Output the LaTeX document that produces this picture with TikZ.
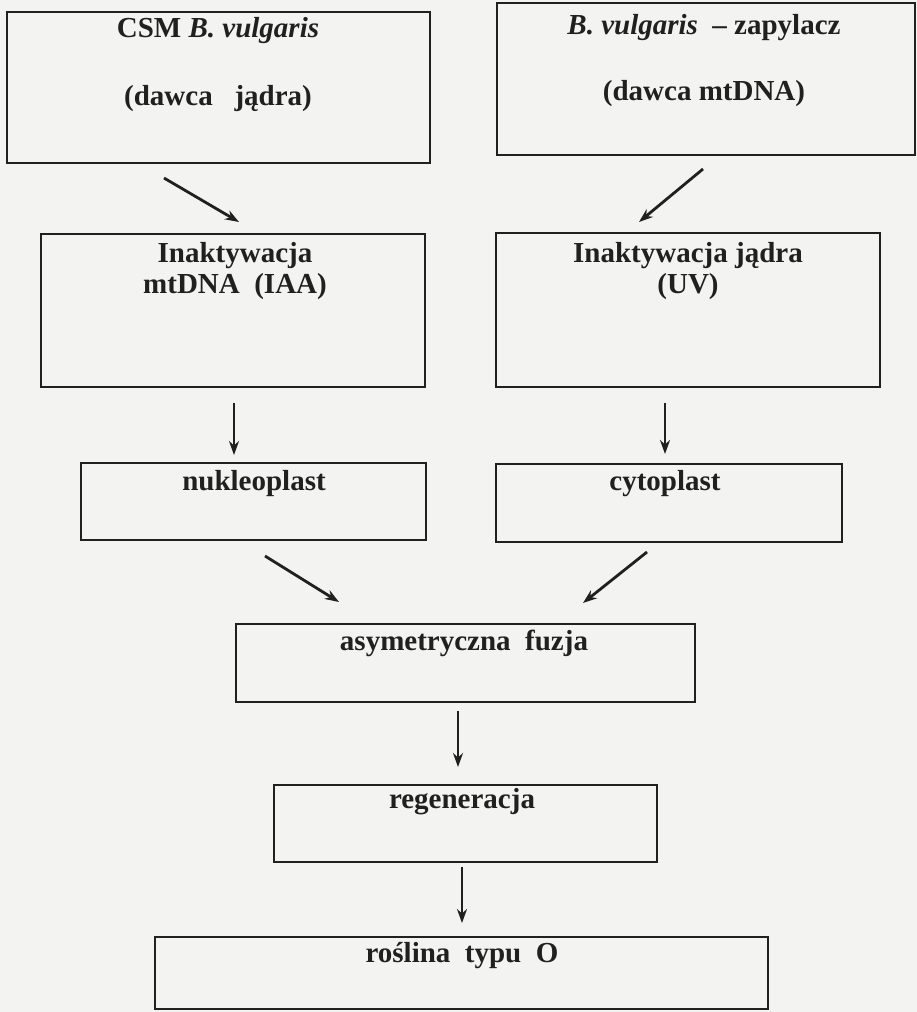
\documentclass[tikz,border=0pt]{standalone}
\usepackage{fontspec}
\setmainfont{Liberation Serif}
\usetikzlibrary{arrows.meta}
\definecolor{paper}{RGB}{243,243,241}
\definecolor{ink}{RGB}{32,32,32}
\tikzset{
  x=1pt, y=-1pt,
  box/.style={draw=ink, line width=2pt, inner sep=0pt},
  txt/.style={anchor=base, inner sep=0pt, text=ink, font=\fontsize{29}{34}\selectfont\bfseries},
  flow/.style={draw=ink, line width=2.8pt, -{Stealth[length=14pt,width=10pt]}}
}
\begin{document}
\begin{tikzpicture}
  \useasboundingbox (0,0) rectangle (917,1012);
  \fill[paper] (0,0) rectangle (917,1012);

  % boxes
  \node[box, minimum width=423pt, minimum height=151pt] (csm)   at (218.5,87.5)  {};
  \node[box, minimum width=418pt, minimum height=152pt] (zap)   at (706,79)      {};
  \node[box, minimum width=384pt, minimum height=153pt] (inmt)  at (233,310.5)   {};
  \node[box, minimum width=384pt, minimum height=154pt] (injd)  at (688,310)     {};
  \node[box, minimum width=345pt, minimum height=77pt]  (nukl)  at (253.5,501.5) {};
  \node[box, minimum width=346pt, minimum height=78pt]  (cyto)  at (669,503)     {};
  \node[box, minimum width=459pt, minimum height=78pt]  (fuzja) at (465.5,663)   {};
  \node[box, minimum width=383pt, minimum height=77pt]  (regen) at (465.5,823.5) {};
  \node[box, minimum width=613pt, minimum height=72pt]  (rosl)  at (461.5,973)   {};

  % labels
  \node[txt] (csmA)  at (218,37)  {CSM \textit{B. vulgaris}};
  \node[txt] (csmB)  at (218,105) {(dawca\ \ \ jądra)};
  \node[txt] (zapA)  at (704,34)  {\textit{B. vulgaris}\ \ – zapylacz};
  \node[txt] (zapB)  at (704,100) {(dawca mtDNA)};
  \node[txt] (inmtA) at (235,262) {Inaktywacja};
  \node[txt] (inmtB) at (235,293) {mtDNA\ \ (IAA)};
  \node[txt] (injdA) at (688,262) {Inaktywacja jądra};
  \node[txt] (injdB) at (688,293) {(UV)};
  \node[txt] (nuklA) at (254,490) {nukleoplast};
  \node[txt] (cytoA) at (665,490) {cytoplast};
  \node[txt] (fuzA)  at (464,650) {asymetryczna\ \ fuzja};
  \node[txt] (regA)  at (462,808) {regeneracja};
  \node[txt] (roslA) at (462,962) {roślina\ \ typu\ \ O};

  % connector end points
  \coordinate (a1s) at (164,178); \coordinate (a1e) at (239,222);
  \coordinate (a2s) at (703,169); \coordinate (a2e) at (639,222);
  \coordinate (a3s) at (234,403); \coordinate (a3e) at (234,455);
  \coordinate (a4s) at (665,403); \coordinate (a4e) at (665,454);
  \coordinate (a5s) at (265,556); \coordinate (a5e) at (339,602);
  \coordinate (a6s) at (647,552); \coordinate (a6e) at (583,603);
  \coordinate (a7s) at (458,711); \coordinate (a7e) at (458,767);
  \coordinate (a8s) at (462,867); \coordinate (a8e) at (462,923);

  % connectors
  \draw[flow] (a1s) -- (a1e);
  \draw[flow] (a2s) -- (a2e);
  \draw[flow] (a3s) -- (a3e);
  \draw[flow] (a4s) -- (a4e);
  \draw[flow] (a5s) -- (a5e);
  \draw[flow] (a6s) -- (a6e);
  \draw[flow] (a7s) -- (a7e);
  \draw[flow] (a8s) -- (a8e);
\end{tikzpicture}
\end{document}
